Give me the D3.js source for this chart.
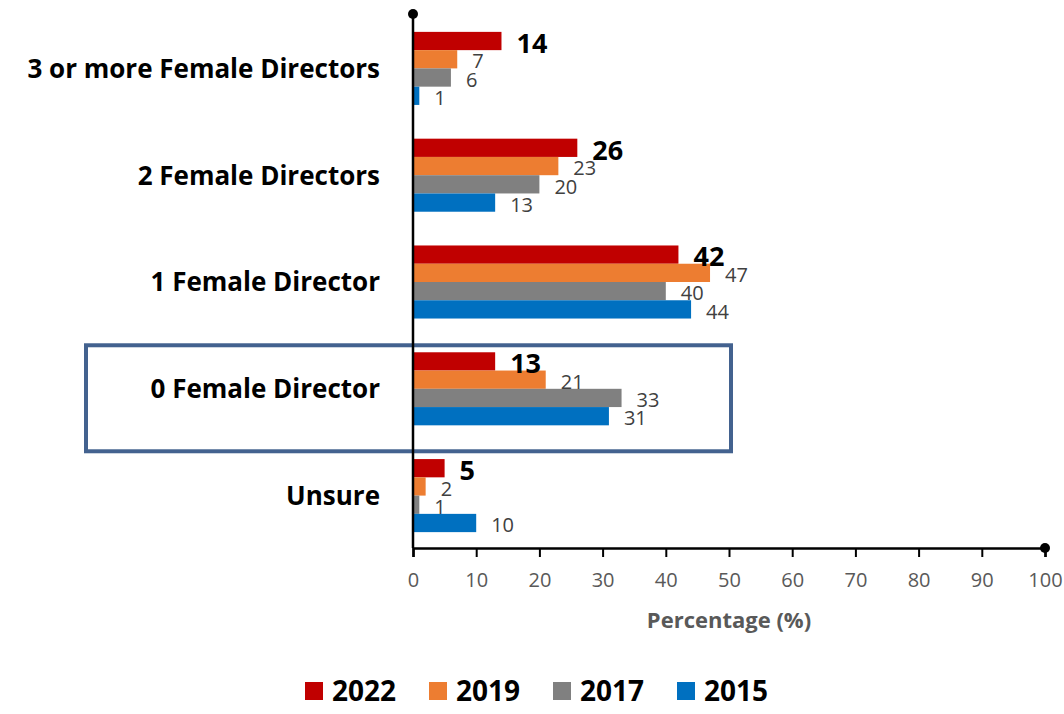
<!DOCTYPE html>
<html>
<head>
<meta charset="utf-8">
<script src="https://cdn.jsdelivr.net/npm/d3@7"></script>
<style>
  html, body { margin: 0; padding: 0; background: #fff; }
  svg { display: block; font-family: "Open Sans", Lato, sans-serif; }
</style>
</head>
<body>
<svg id="chart" width="1064" height="714"></svg>
<script>
const categories = ["3 or more Female Directors", "2 Female Directors", "1 Female Director", "0 Female Director", "Unsure"];
const years = ["2022", "2019", "2017", "2015"];
const values2022 = [14, 26, 42, 13, 5];
const values2019 = [7, 23, 47, 21, 2];
const values2017 = [6, 20, 40, 33, 1];
const values2015 = [1, 13, 44, 31, 10];
const xTicks = [0, 10, 20, 30, 40, 50, 60, 70, 80, 90, 100];
const highlighted = "0 Female Director";
const colors = ["#C00000", "#ED7D31", "#808080", "#0070C0"];

const seriesValues = [values2022, values2019, values2017, values2015];
const rows = [];
categories.forEach((c, i) => years.forEach((y, j) => rows.push({cat: c, year: y, value: seriesValues[j][i], s: j})));

const svg = d3.select("#chart");
const x = d3.scaleLinear().domain([0, 100]).range([413, 1045]);
const y = d3.scaleBand().domain(categories).range([15, 549]).paddingInner(0.316).paddingOuter(0.158);
const ySub = d3.scaleBand().domain(years).range([0, y.bandwidth()]).padding(0);
const color = d3.scaleOrdinal().domain(years).range(colors);

// highlight box
const hb = y(highlighted);
svg.append("rect")
  .attr("x", 86).attr("y", hb - 7).attr("width", 731 - 86).attr("height", 106)
  .attr("fill", "none").attr("stroke", "#43628F").attr("stroke-width", 4);

// bars
svg.append("g").selectAll("rect").data(rows).join("rect")
  .attr("x", x(0))
  .attr("y", d => y(d.cat) + ySub(d.year))
  .attr("width", d => x(d.value) - x(0))
  .attr("height", ySub.bandwidth())
  .attr("fill", d => color(d.year));

// data labels
svg.append("g").selectAll("text").data(rows).join("text")
  .attr("x", d => x(d.value) + 15)
  .attr("y", d => y(d.cat) + ySub(d.year) + ySub.bandwidth() / 2 + 2)
  .attr("dy", "0.36em")
  .attr("font-size", d => d.s === 0 ? 27 : 20)
  .attr("font-weight", d => d.s === 0 ? 700 : 400)
  .attr("fill", d => d.s === 0 ? "#000" : "#404040")
  .text(d => d.value);

// category labels
svg.append("g").selectAll("text").data(categories).join("text")
  .attr("x", 380)
  .attr("y", d => y(d) + y.bandwidth() / 2)
  .attr("dy", "0.36em")
  .attr("text-anchor", "end")
  .attr("font-size", 26)
  .attr("font-weight", 700)
  .attr("fill", "#000")
  .text(d => d);

// x axis
const xAxis = svg.append("g").attr("transform", "translate(0,548)")
  .call(d3.axisBottom(x).tickValues(xTicks).tickSize(9).tickPadding(16).tickFormat(d3.format("d")));
xAxis.select(".domain").attr("stroke", "#000").attr("stroke-width", 2.5);
xAxis.selectAll(".tick line").attr("stroke", "#000").attr("stroke-width", 2);
xAxis.selectAll(".tick text").attr("font-size", 20).attr("fill", "#595959").attr("font-family", "'Open Sans', sans-serif");
svg.append("circle").attr("cx", x(100)).attr("cy", 548).attr("r", 5).attr("fill", "#000");

// y axis line
svg.append("line").attr("x1", x(0)).attr("x2", x(0)).attr("y1", 14).attr("y2", 548)
  .attr("stroke", "#000").attr("stroke-width", 2.5);
svg.append("circle").attr("cx", x(0)).attr("cy", 14).attr("r", 5).attr("fill", "#000");

// axis title
svg.append("text").attr("x", x(50)).attr("y", 620).attr("dy", "0.36em")
  .attr("text-anchor", "middle").attr("font-size", 22).attr("font-weight", 700).attr("fill", "#595959")
  .text("Percentage (%)");

// legend
const legend = svg.append("g").selectAll("g").data(years).join("g")
  .attr("transform", (d, i) => `translate(${305 + i * 124},682)`);
legend.append("rect").attr("width", 18).attr("height", 18).attr("fill", d => color(d));
legend.append("text").attr("x", 27).attr("y", 9).attr("dy", "0.36em")
  .attr("font-size", 28).attr("font-weight", 700).attr("fill", "#000").text(d => d);
</script>
</body>
</html>
